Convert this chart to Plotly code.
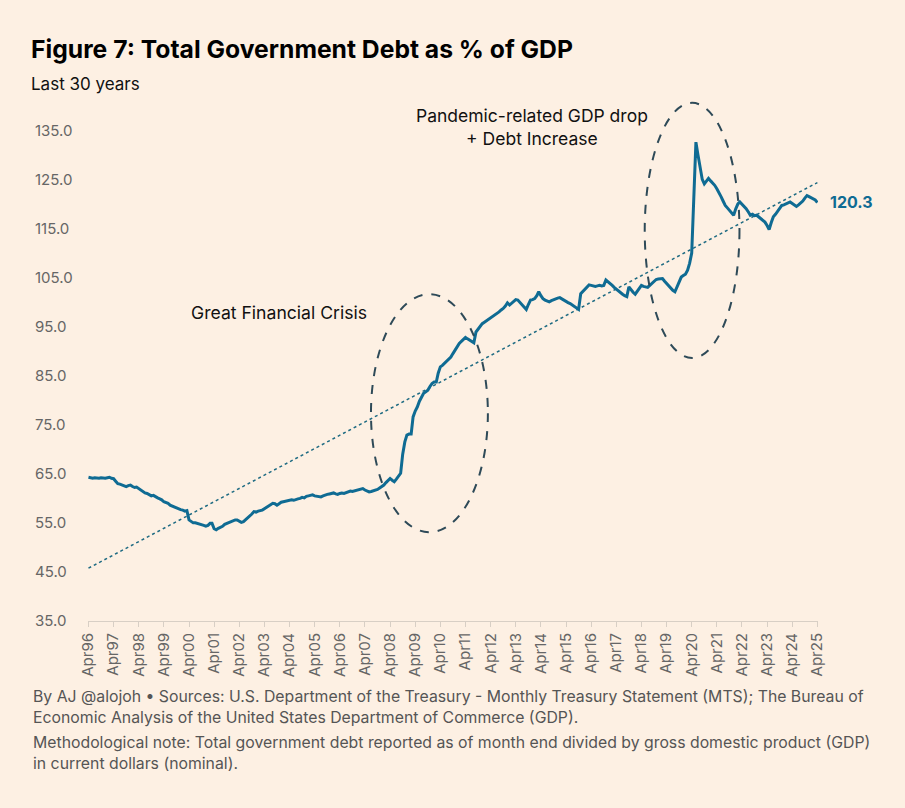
import numpy as np
import pandas as pd
import plotly.graph_objects as go

# monthly debt / GDP (%), Apr 1996 .. Apr 2025, one row per calendar year
debt_1996 = [64.3, 64.2, 64.1, 64.2, 64.1, 64.1, 64.2, 64.1, 64.1]  # Apr-Dec
debt_by_year = [
    [64.2, 64.3, 64.1, 64.0, 63.5, 63.0, 62.9, 62.7, 62.5, 62.4, 62.6, 62.7],  # 1997
    [62.4, 62.2, 62.3, 62.0, 61.6, 61.3, 61.1, 61.0, 60.7, 60.5, 60.6, 60.3],  # 1998
    [60.1, 59.9, 59.7, 59.3, 59.2, 59.0, 58.6, 58.4, 58.2, 57.95, 57.9, 57.7],  # 1999
    [57.6, 57.4, 57.5, 55.6, 55.3, 55.0, 55.0, 54.9, 54.8, 54.6, 54.5, 54.35],  # 2000
    [54.5, 54.9, 54.9, 53.8, 53.6, 53.9, 54.1, 54.3, 54.7, 54.9, 55.0, 55.3],  # 2001
    [55.4, 55.6, 55.6, 55.3, 55.1, 55.25, 55.6, 56.0, 56.4, 56.8, 57.3, 57.2],  # 2002
    [57.4, 57.5, 57.6, 57.9, 58.2, 58.5, 58.7, 59.0, 58.9, 58.6, 58.9, 59.2],  # 2003
    [59.3, 59.4, 59.5, 59.5, 59.7, 59.6, 59.8, 59.9, 60.0, 60.2, 60.1, 60.4],  # 2004
    [60.5, 60.6, 60.7, 60.5, 60.4, 60.3, 60.3, 60.5, 60.7, 60.8, 60.9, 61.0],  # 2005
    [61.1, 60.9, 60.8, 61.0, 61.1, 61.0, 61.2, 61.3, 61.5, 61.4, 61.5, 61.6],  # 2006
    [61.7, 61.8, 62.0, 61.7, 61.5, 61.3, 61.4, 61.5, 61.6, 61.8, 62.1, 62.4],  # 2007
    [62.7, 63.2, 63.6, 64.05, 63.7, 63.4, 63.9, 64.5, 65.1, 69.0, 71.5, 72.9],  # 2008
    [73.1, 73.1, 76.6, 77.8, 78.6, 79.8, 80.7, 81.4, 81.7, 82.05, 82.8, 83.4],  # 2009
    [83.7, 83.7, 85.5, 86.8, 87.1, 87.5, 87.8, 88.2, 88.8, 89.5, 90.2, 90.9],  # 2010
    [91.55, 92.0, 92.4, 92.8, 92.5, 92.2, 92.0, 91.7, 93.9, 94.5, 95.1, 95.6],  # 2011
    [95.9, 96.2, 96.4, 96.65, 97.0, 97.3, 97.7, 98.0, 98.4, 98.7, 99.2, 99.85],  # 2012
    [99.4, 99.8, 100.1, 100.5, 100.4, 99.9, 99.4, 98.9, 98.5, 99.5, 100.4, 100.5],  # 2013
    [100.7, 101.3, 102.1, 101.3, 100.7, 100.4, 100.2, 100.05, 100.3, 100.5, 100.7, 100.8],  # 2014
    [100.9, 100.6, 100.4, 100.1, 99.9, 99.7, 99.4, 99.1, 98.8, 98.5, 101.7, 102.2],  # 2015
    [102.6, 103.0, 103.5, 103.4, 103.3, 103.2, 103.3, 103.4, 103.3, 103.4, 104.5, 104.2],  # 2016
    [103.8, 103.4, 103.0, 102.6, 102.3, 102.0, 101.6, 101.3, 101.1, 103.1, 102.5, 102.0],  # 2017
    [101.6, 102.3, 102.9, 103.4, 103.2, 103.1, 103.0, 103.4, 103.8, 104.2, 104.6, 104.7],  # 2018
    [104.8, 104.8, 104.3, 103.8, 103.3, 102.8, 102.4, 102.1, 103.1, 104.1, 105.1, 105.4],  # 2019
    [105.7, 106.5, 107.9, 110.0, 121.0, 132.6, 130.0, 127.5, 125.0, 124.1, 124.6, 125.2],  # 2020
    [124.7, 124.3, 123.8, 123.1, 122.4, 121.5, 120.6, 119.7, 119.2, 118.7, 118.2, 117.7],  # 2021
    [119.0, 120.0, 120.4, 120.0, 119.5, 119.05, 118.4, 117.7, 117.9, 117.6, 117.7, 117.3],  # 2022
    [117.0, 116.6, 116.3, 115.6, 114.8, 116.2, 117.4, 117.9, 118.5, 119.1, 119.7, 119.8],  # 2023
    [120.0, 120.2, 120.4, 120.1, 119.8, 119.5, 119.8, 120.2, 120.6, 121.2, 121.7, 121.5],  # 2024
]
debt_2025 = [121.3, 121.1, 120.8, 120.3]  # Jan-Apr

debt = debt_1996 + [v for row in debt_by_year for v in row] + debt_2025
dates = pd.date_range("1996-04-01", periods=len(debt), freq="MS")

y_ticks = [35, 45, 55, 65, 75, 85, 95, 105, 115, 125, 135]

# ellipses around the two episodes (date range, value range)
gfc_box = ("2007-06-28", "2012-02-21", 53.1, 101.6)
covid_box = ("2018-05-19", "2022-02-24", 88.6, 140.6)

BG = "#fdf0e3"
LINE = "#0f6b93"
RING = "#2e4a58"
GREY = "#666666"
FONT = "Inter"

# linear trend through the series
t = np.arange(len(debt))
slope, icpt = np.polyfit(t, debt, 1)
trend = slope * t + icpt

fig = go.Figure()
fig.add_trace(go.Scatter(x=dates, y=trend, mode="lines",
                         line=dict(color="#1d6a82", width=1.5, dash="dot"),
                         hoverinfo="skip", showlegend=False))
fig.add_trace(go.Scatter(x=dates, y=debt, mode="lines",
                         line=dict(color=LINE, width=3),
                         showlegend=False))

for x0, x1, y0, y1 in (gfc_box, covid_box):
    fig.add_shape(type="circle", xref="x", yref="y", x0=x0, x1=x1, y0=y0, y1=y1,
                  line=dict(color=RING, width=2, dash="dash"))

fig.add_annotation(x=dates[-1], y=debt[-1], xref="x", yref="y", text=f"<b>{debt[-1]:.1f}</b>",
                   showarrow=False, xanchor="left", xshift=11,
                   font=dict(family=FONT, size=16, color=LINE))
fig.add_annotation(x=0.3145, y=0.5867, xref="paper", yref="paper",
                   xanchor="center", yanchor="middle",
                   text="Great Financial Crisis", showarrow=False,
                   font=dict(family=FONT, size=17.6, color="#111111"))
fig.add_annotation(x=0.6366, y=0.9419, xref="paper", yref="paper",
                   xanchor="center", yanchor="middle",
                   text="Pandemic-related GDP drop<br>+ Debt Increase", showarrow=False,
                   font=dict(family=FONT, size=17.5, color="#111111"))

# title, subtitle and footer
fig.add_annotation(x=-0.0025, y=1.0886, xref="paper", yref="paper", xanchor="left", yanchor="middle",
                   text="<b>Figure 7: Total Government Debt as % of GDP</b>", showarrow=False,
                   font=dict(family=FONT, size=24.7, color="#000000"))
fig.add_annotation(x=-0.0025, y=1.0229, xref="paper", yref="paper", xanchor="left", yanchor="middle",
                   text="Last 30 years", showarrow=False,
                   font=dict(family=FONT, size=17, color="#111111"))
fig.add_annotation(x=0, y=-0.1638, xref="paper", yref="paper", xanchor="left", yanchor="middle",
                   align="left", showarrow=False,
                   text="By AJ @alojoh • Sources: U.S. Department of the Treasury - Monthly Treasury Statement (MTS); The Bureau of<br>"
                        "Economic Analysis of the United States Department of Commerce (GDP).",
                   font=dict(family=FONT, size=15.8, color="#555555"))
fig.add_annotation(x=0, y=-0.2505, xref="paper", yref="paper", xanchor="left", yanchor="middle",
                   align="left", showarrow=False,
                   text="Methodological note: Total government debt reported as of month end divided by gross domestic product (GDP)<br>"
                        "in current dollars (nominal).",
                   font=dict(family=FONT, size=15.8, color="#555555"))

fig.update_layout(
    width=905, height=808,
    margin=dict(l=31, r=87, t=96, b=187),
    paper_bgcolor=BG, plot_bgcolor=BG,
    font=dict(family=FONT, color=GREY),
    xaxis=dict(type="date", domain=[57 / 787, 1],
               range=["1996-03-25", "2025-04-10"],
               tick0="1996-04-01", dtick="M12", tickformat="%b%y", tickangle=-90,
               ticks="outside", ticklen=5, tickcolor="#d8cfc5",
               showline=True, linecolor="#d8cfc5", linewidth=1,
               showgrid=False, zeroline=False,
               tickfont=dict(family=FONT, size=15, color=GREY)),
    yaxis=dict(range=[35, 142], anchor="free", position=0,
               tickvals=y_ticks, tickformat=".1f",
               ticklabelposition="inside", ticklabeloverflow="allow",
               showgrid=False, zeroline=False, showline=False, ticks="",
               tickfont=dict(family=FONT, size=15, color=GREY)),
)

# page body has a default 8px margin; drop it so the figure sits at the corner
fig.write_html("out.html", config={"displayModeBar": False},
               post_script="document.body.style.margin='0';")
